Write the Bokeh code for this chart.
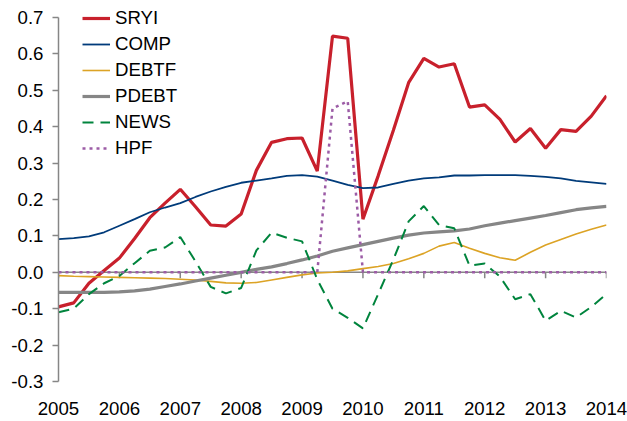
from bokeh.plotting import figure
from bokeh.models import Range1d, FixedTicker, NumeralTickFormatter, Span, Legend, LegendItem
from bokeh.embed import file_html
from bokeh.resources import INLINE

quarters = [2005 + 0.25 * i for i in range(37)]

sryi = [-0.095, -0.084, -0.030, 0.005,
        0.039, 0.093, 0.150, 0.190,
        0.228, 0.180, 0.130, 0.127,
        0.160, 0.280, 0.357, 0.367,
        0.369, 0.278, 0.649, 0.643,
        0.146, 0.265, 0.390, 0.521,
        0.588, 0.564, 0.573, 0.454,
        0.460, 0.420, 0.358, 0.395,
        0.341, 0.392, 0.387, 0.429,
        0.485]

comp = [0.091, 0.094, 0.099, 0.110,
        0.128, 0.146, 0.165, 0.178,
        0.190, 0.207, 0.222, 0.235,
        0.246, 0.252, 0.258, 0.265,
        0.267, 0.263, 0.252, 0.240,
        0.231, 0.233, 0.243, 0.252,
        0.258, 0.261, 0.266, 0.266,
        0.267, 0.267, 0.267, 0.265,
        0.262, 0.258, 0.251, 0.247,
        0.243]

debtf = [-0.009, -0.011, -0.012, -0.013,
         -0.014, -0.015, -0.016, -0.017,
         -0.019, -0.021, -0.025, -0.029,
         -0.030, -0.028, -0.021, -0.014,
         -0.007, -0.002, 0.000, 0.004,
         0.010, 0.016, 0.024, 0.037,
         0.052, 0.072, 0.082, 0.066,
         0.052, 0.040, 0.033, 0.055,
         0.075, 0.090, 0.105, 0.118,
         0.130]

pdebt = [-0.055, -0.055, -0.055, -0.055,
         -0.054, -0.051, -0.046, -0.039,
         -0.032, -0.024, -0.016, -0.008,
         0.000, 0.008, 0.015, 0.024,
         0.034, 0.045, 0.058, 0.067,
         0.076, 0.085, 0.094, 0.102,
         0.108, 0.111, 0.114, 0.119,
         0.128, 0.135, 0.142, 0.149,
         0.156, 0.164, 0.172, 0.177,
         0.181]

news = [-0.110, -0.100, -0.060, -0.030,
        -0.010, 0.025, 0.059, 0.068,
        0.097, 0.030, -0.040, -0.058,
        -0.043, 0.060, 0.109, 0.095,
        0.085, -0.020, -0.100, -0.125,
        -0.154, -0.060, 0.035, 0.140,
        0.182, 0.130, 0.121, 0.018,
        0.024, -0.012, -0.074, -0.060,
        -0.133, -0.106, -0.124, -0.095,
        -0.060]

hpf = [0, 0, 0, 0,
       0, 0, 0, 0,
       0, 0, 0, 0,
       0, 0, 0, 0,
       0, 0, 0.450, 0.470,
       0, 0, 0, 0,
       0, 0, 0, 0,
       0, 0, 0, 0,
       0, 0, 0, 0,
       0]

year_ticks = [2005, 2006, 2007, 2008, 2009, 2010, 2011, 2012, 2013, 2014]
y_ticks = [-0.3, -0.2, -0.1, 0.0, 0.1, 0.2, 0.3, 0.4, 0.5, 0.6, 0.7]

FONT = "Liberation Sans"
FSIZE = "14pt"
AXIS_GRAY = "#868686"

# frame extends slightly above 0.7 so the legend (top-left) is not clipped
Y_TOP = 0.7385

p = figure(width=627, height=421,
           min_border_left=58, min_border_right=21,
           min_border_top=3, min_border_bottom=40,
           x_range=Range1d(2005, 2014), y_range=Range1d(-0.3, Y_TOP),
           output_backend="svg", toolbar_location=None)
p.outline_line_color = None
p.xgrid.visible = False
p.ygrid.visible = False
p.background_fill_color = "white"
p.border_fill_color = "white"

# y axis
p.yaxis.ticker = FixedTicker(ticks=y_ticks)
p.yaxis.bounds = (-0.3, 0.7)
p.yaxis.formatter = NumeralTickFormatter(format="0.0")
p.yaxis.axis_line_color = AXIS_GRAY
p.yaxis.axis_line_width = 1.5
p.yaxis.major_tick_line_color = AXIS_GRAY
p.yaxis.major_tick_line_width = 1.5
p.yaxis.major_tick_in = 0
p.yaxis.major_tick_out = 6
p.yaxis.minor_tick_line_color = None
p.yaxis.major_label_standoff = 9
p.yaxis.major_label_text_font = FONT
p.yaxis.major_label_text_font_size = FSIZE
p.yaxis.major_label_text_color = "#000000"

# x axis: labels only at bottom
p.xaxis.ticker = FixedTicker(ticks=year_ticks)
p.xaxis.axis_line_color = None
p.xaxis.major_tick_line_color = None
p.xaxis.minor_tick_line_color = None
p.xaxis.major_tick_in = 0
p.xaxis.major_tick_out = 0
p.xaxis.major_label_standoff = 20
p.xaxis.major_label_text_font = FONT
p.xaxis.major_label_text_font_size = FSIZE
p.xaxis.major_label_text_color = "#000000"

# horizontal axis line at zero with tick marks
zero = Span(location=0, dimension="width", line_color=AXIS_GRAY, line_width=1.5, level="underlay")
p.add_layout(zero)
p.segment(x0=year_ticks, y0=[0] * len(year_ticks), x1=year_ticks, y1=[-0.016] * len(year_ticks),
          line_color=AXIS_GRAY, line_width=1.5, level="underlay")

r_sryi = p.line(quarters, sryi, line_color="#C8202C", line_width=3.2)
r_comp = p.line(quarters, comp, line_color="#003B7A", line_width=1.8)
r_debtf = p.line(quarters, debtf, line_color="#DCA325", line_width=1.6)
r_pdebt = p.line(quarters, pdebt, line_color="#868686", line_width=3.2)
r_news = p.line(quarters, news, line_color="#00843D", line_width=2, line_dash="11 7")
r_hpf = p.line(quarters, hpf, line_color="#9C5CA6", line_width=2.5, line_dash="3 4")

legend = Legend(items=[
    LegendItem(label="SRYI", renderers=[r_sryi]),
    LegendItem(label="COMP", renderers=[r_comp]),
    LegendItem(label="DEBTF", renderers=[r_debtf]),
    LegendItem(label="PDEBT", renderers=[r_pdebt]),
    LegendItem(label="NEWS", renderers=[r_news]),
    LegendItem(label="HPF", renderers=[r_hpf]),
], location=(24, 222), padding=0, margin=0, border_line_color=None,
    background_fill_alpha=0, glyph_width=28, glyph_height=20, label_height=20,
    spacing=4, label_standoff=5, label_text_font=FONT, label_text_font_size=FSIZE,
    label_text_color="#000000")
p.add_layout(legend)

open("out.html", "w").write(file_html(p, INLINE))
